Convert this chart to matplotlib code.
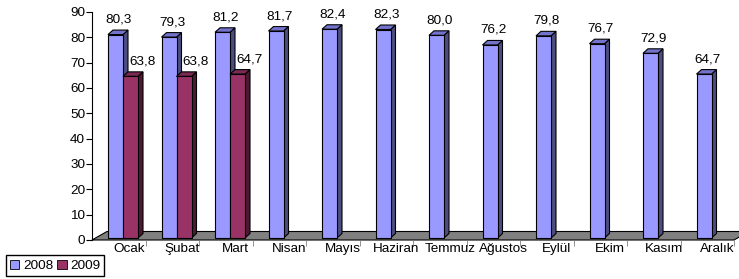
import matplotlib
matplotlib.use("Agg")
import matplotlib.pyplot as plt
from matplotlib.patches import Polygon, Patch

months = ["Ocak", "Şubat", "Mart", "Nisan", "Mayıs", "Haziran", "Temmuz",
          "Ağustos", "Eylül", "Ekim", "Kasım", "Aralık"]
values_2008 = [80.3, 79.3, 81.2, 81.7, 82.4, 82.3, 80.0, 76.2, 79.8, 76.7, 72.9, 64.7]
values_2009 = [63.8, 63.8, 64.7]
series_names = ["2008", "2009"]
yticks = [0, 10, 20, 30, 40, 50, 60, 70, 80, 90]

plt.rcParams['font.family'] = ['Liberation Sans', 'DejaVu Sans']
FS = 9.7

W, H = 739, 279
fig = plt.figure(figsize=(W / 100, H / 100), dpi=100)
ax = fig.add_axes([92 / W, 39 / H, 642 / W, 228 / H])
ax.set_xlim(0, 12)
ax.set_ylim(0, 90)

pxx = 53.5          # px per category
pxy = 228 / 90      # px per value unit

# styles
front = {"2008": "#9999FF", "2009": "#993366"}
side = {"2008": "#4D4D80", "2009": "#4D1A33"}
top = {"2008": "#7373CC", "2009": "#7A2952"}
lw = 0.8

# floor
fdx, fdy = 15 / pxx, 8.5 / pxy
floor = Polygon([(0, 0), (12, 0), (12 + fdx, fdy), (fdx, fdy)], closed=True,
                facecolor="#808080", edgecolor="black", lw=lw, clip_on=False, zorder=1)
ax.add_patch(floor)

bw = 15 / pxx
bx0 = 16 / pxx
by0 = 2 / pxy
ddx, ddy = 5 / pxx, 4.5 / pxy
lab_dx = {"2008": 3.5, "2009": 12}

z = 2
for i, m in enumerate(months):
    for s, name in enumerate(series_names):
        vals = values_2008 if name == "2008" else values_2009
        if i >= len(vals):
            continue
        v = vals[i]
        x0 = i + bx0 + s * bw
        x1 = x0 + bw
        y1 = v + by0
        ax.add_patch(Polygon([(x1, by0), (x1 + ddx, by0 + ddy), (x1 + ddx, y1 + ddy), (x1, y1)],
                             closed=True, facecolor=side[name], edgecolor="black", lw=lw,
                             clip_on=False, zorder=z))
        ax.add_patch(Polygon([(x0, y1), (x1, y1), (x1 + ddx, y1 + ddy), (x0 + ddx, y1 + ddy)],
                             closed=True, facecolor=top[name], edgecolor="black", lw=lw,
                             clip_on=False, zorder=z))
        ax.add_patch(Polygon([(x0, by0), (x1, by0), (x1, y1), (x0, y1)],
                             closed=True, facecolor=front[name], edgecolor="black", lw=lw,
                             clip_on=False, zorder=z))
        z += 1
        ax.annotate(f"{v:.1f}".replace(".", ","), xy=((x0 + x1) / 2, y1),
                    xytext=(lab_dx[name], 15), textcoords="offset pixels",
                    ha="center", va="center", fontsize=FS, zorder=50)
    ax.annotate(m, xy=(i + 0.5, 0), xytext=(10, -9), textcoords="offset pixels",
                ha="center", va="center", fontsize=FS, annotation_clip=False)

for sp in ["top", "right", "bottom"]:
    ax.spines[sp].set_visible(False)
ax.spines["left"].set_linewidth(lw)
ax.set_yticks(yticks)
ax.set_yticklabels([str(t) for t in yticks], fontsize=FS)
ax.tick_params(axis="y", length=4, width=lw, pad=1)
ax.set_xticks(range(1, 13))
ax.set_xticklabels([])
ax.tick_params(axis="x", length=4, width=0.6, color="#808080")
ax.set_facecolor("none")

handles = [Patch(facecolor=front[n], edgecolor="black", lw=0.6, label=n) for n in series_names]
fig.legend(handles=handles, loc="lower left", bbox_to_anchor=(6 / W, 3 / H), ncol=2,
           fontsize=FS, frameon=True, fancybox=False, edgecolor="black", framealpha=1,
           handlelength=0.7, handleheight=0.7, handletextpad=0.25, columnspacing=0.3,
           borderpad=0.3, borderaxespad=0)

fig.savefig("out.png", dpi=100)
